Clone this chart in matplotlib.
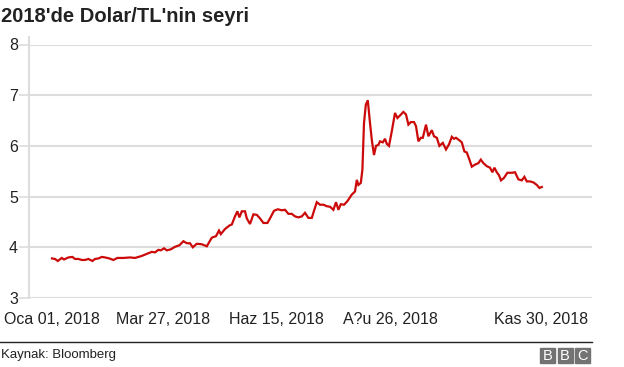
import matplotlib.pyplot as plt
from matplotlib.patches import Rectangle
from matplotlib.lines import Line2D

# gözlem numarası (işlem günü) ve USD/TRY kuru
gun = [0, 1.5, 2.9, 4.9, 6, 8.2, 10.2, 11.5, 13.2, 14.9, 16.5, 18.2, 20.2, 21.5, 23.2, 24.9,
       26.5, 28.7, 30.7, 32.7, 35.7, 39, 41.5, 43.2, 44.9, 47.4, 49.9, 51.5, 53.2, 54.4, 56,
       57.4, 59.4, 61.5, 63.7, 65.7, 67.4, 69, 70.4, 72.4, 74.9, 77.4, 79.9, 82, 83.5, 84.4,
       86.5, 88.7, 89.9, 91.5, 92.7, 93.7, 94.9, 96.5, 97.4, 99, 100.7, 102.4, 104, 105.7,
       107.7, 109, 111, 112.9, 114.9, 116.5, 118.2, 119.9, 121.5, 123.2, 124.9, 126.5, 128.2,
       129.9, 131, 132.4, 134, 135.7, 137.4, 139, 140.7, 142, 143.2, 144.4, 146, 147.7, 149.9,
       151.5, 152.4, 153.2, 154.4, 155.2, 156, 156.9, 157.9, 159, 159.9, 161, 162, 163.2, 164,
       165.4, 166.5, 167.4, 168.5, 169.9, 171.5, 172.7, 174, 175.7, 177, 178.2, 179.4, 181,
       182, 183.2, 184.4, 185.4, 187, 188.2, 189.9, 191, 192.4, 193.7, 195.4, 197, 198.5,
       199.9, 201, 202, 203.7, 204.9, 206.2, 207.4, 208.7, 209.9, 211.5, 213.2, 214.4, 215.7,
       217.4, 219, 220.2, 221.2, 222.4, 223.5, 224.5, 226, 227.7, 229.9, 231.5, 233.2, 234.9,
       236.2, 237.4, 239, 240.7, 242.4, 243.7, 244.9]
kur = [3.78, 3.77, 3.73, 3.79, 3.76, 3.80, 3.81, 3.77, 3.77, 3.75, 3.75, 3.77, 3.73, 3.77, 3.78,
       3.81, 3.80, 3.78, 3.75, 3.79, 3.79, 3.80, 3.79, 3.81, 3.83, 3.87, 3.91, 3.90, 3.95, 3.94,
       3.98, 3.94, 3.96, 4.01, 4.04, 4.12, 4.08, 4.08, 4.00, 4.07, 4.06, 4.02, 4.19, 4.22, 4.33,
       4.26, 4.36, 4.43, 4.45, 4.61, 4.71, 4.59, 4.71, 4.71, 4.57, 4.46, 4.65, 4.64, 4.57, 4.48,
       4.48, 4.57, 4.72, 4.75, 4.73, 4.74, 4.66, 4.66, 4.61, 4.59, 4.61, 4.68, 4.58, 4.58, 4.72,
       4.89, 4.84, 4.84, 4.81, 4.80, 4.74, 4.89, 4.74, 4.85, 4.84, 4.91, 5.04, 5.10, 5.33, 5.23,
       5.27, 5.53, 6.45, 6.81, 6.90, 6.45, 6.12, 5.82, 6.00, 6.02, 6.09, 6.07, 6.14, 6.04, 6.00,
       6.29, 6.65, 6.55, 6.60, 6.67, 6.62, 6.42, 6.47, 6.47, 6.39, 6.09, 6.16, 6.16, 6.42, 6.19,
       6.31, 6.19, 6.16, 6.00, 6.06, 5.93, 6.03, 6.18, 6.14, 6.16, 6.11, 6.07, 5.89, 5.87, 5.73,
       5.59, 5.63, 5.66, 5.73, 5.66, 5.60, 5.57, 5.48, 5.57, 5.48, 5.42, 5.32, 5.37, 5.47, 5.47,
       5.48, 5.34, 5.32, 5.39, 5.30, 5.30, 5.28, 5.23, 5.17, 5.19]

etiket_yer = [0, 55.5, 112, 169, 244.5]
etiketler = ["Oca 01, 2018", "Mar 27, 2018", "Haz 15, 2018", "A?u 26, 2018", "Kas 30, 2018"]
y_ticks = [3, 4, 5, 6, 7, 8]

plt.rcParams['font.family'] = ['Liberation Sans', 'DejaVu Sans']

fig = plt.figure(figsize=(6.24, 3.67), dpi=100)
ax = fig.add_axes([29 / 624, 1 - 298 / 367, 563 / 624, 253.5 / 367])

ax.plot(gun, kur, color='#cc0a0a', linewidth=1.6, solid_joinstyle='miter', zorder=3)

ax.set_ylim(3, 8)
ax.set_xlim(-11.5, 270)
ax.set_yticks(y_ticks)
ax.set_xticks(etiket_yer)
ax.set_xticklabels(etiketler)
ax.grid(axis='y', color='#dddddd', linewidth=1.5)
ax.tick_params(axis='y', length=7, width=1.2, color='#dddddd', pad=1, labelsize=11.5, labelcolor='#222222')
ax.tick_params(axis='x', length=0, pad=10, labelsize=11.5, labelcolor='#222222')
for s in ['top', 'right', 'bottom']:
    ax.spines[s].set_visible(False)
ax.spines['left'].set_color('#dddddd')
ax.spines['left'].set_linewidth(1.5)
ax.spines['left'].set_bounds(3, 8.15)

fig.text(0.002, 1 - 17 / 367, "2018'de Dolar/TL'nin seyri", fontsize=14.5, fontweight='bold',
         color='#222222', va='center', ha='left')

# alt bilgi
fig.add_artist(Line2D([0, 592 / 624], [1 - 342 / 367, 1 - 342 / 367], color='#222222', linewidth=1))
fig.text(0.002, 1 - 355 / 367, "Kaynak: Bloomberg", fontsize=9.5, color='#222222', va='center', ha='left')
for i, harf in enumerate("BBC"):
    x0 = (540 + i * 17.5) / 624
    fig.add_artist(Rectangle((x0, 1 - 362.5 / 367), 15 / 624, 14.5 / 367, color='#737373',
                             transform=fig.transFigure))
    fig.text(x0 + 7.5 / 624, 1 - 355.5 / 367, harf, fontsize=10.5, color='white',
             ha='center', va='center')

plt.savefig("out.png", dpi=100)
